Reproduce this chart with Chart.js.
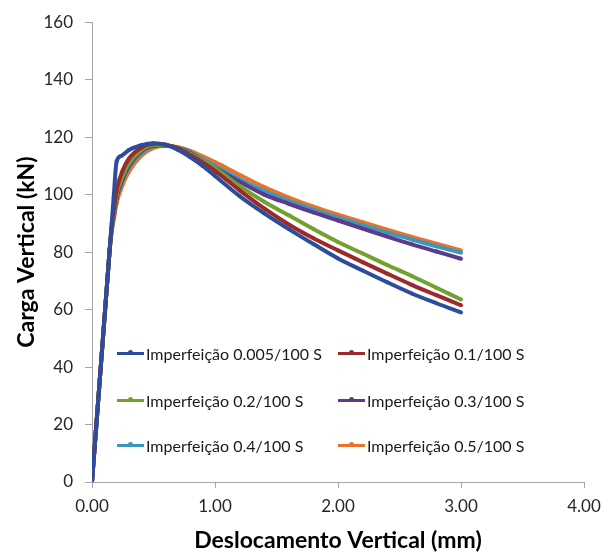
<!DOCTYPE html>
<html>
<head>
<meta charset="utf-8">
<script src="https://cdn.jsdelivr.net/npm/chart.js@4"></script>
<style>
  html, body { margin: 0; padding: 0; background: #fff; }
  #wrap { position: relative; width: 612px; height: 554px; }
  #legenda { position: absolute; left: 0; top: 0; font-family: Lato, "Open Sans", sans-serif; font-size: 16px; color: #1a1a1a; }
  .item { position: absolute; display: flex; align-items: center; white-space: nowrap; }
  .traco { position: relative; width: 27px; height: 3px; margin-right: 2px; }
  .traco span { position: absolute; left: 11px; top: -1.5px; width: 5px; height: 5px; border-radius: 50%; background: inherit; }
</style>
</head>
<body>
<div id="wrap">
  <canvas id="grafico" width="612" height="554"></canvas>
  <div id="legenda"></div>
</div>
<script>
// ========== DADOS ==========
// trecho inicial (comum a todas as curvas)
const rampaDesl = [0, 0.016, 0.032, 0.048, 0.064, 0.08, 0.096, 0.112, 0.128, 0.144];
const rampaCarga = [0, 9, 18, 27, 36, 45, 54, 63, 72, 81];

const deslAzul = [0.16, 0.176, 0.2, 0.24, 0.3, 0.4, 0.5, 0.6, 0.7, 0.8, 0.9, 1.0, 1.2, 1.4, 1.6, 1.8, 2.0, 2.2, 2.4, 2.6, 2.8, 3.0];
const cargaAzul = [90, 99, 111.5, 113.5, 115.5, 117.2, 117.9, 117.3, 115.5, 113, 110, 106.5, 99.5, 93.5, 88, 82.8, 77.8, 73.6, 69.5, 65.6, 62.2, 59];

const deslOutras = [0.16, 0.18, 0.2, 0.25, 0.3, 0.4, 0.5, 0.6, 0.7, 0.8, 0.9, 1.0, 1.2, 1.4, 1.6, 1.8, 2.0, 2.2, 2.4, 2.6, 2.8, 3.0];
const cargaVermelha = [89, 95.5, 101.5, 108.5, 112.5, 116.3, 117.7, 117.4, 116, 113.8, 111.2, 108.3, 101.5, 95.2, 89.6, 84.8, 80.6, 76.5, 72.5, 68.6, 65, 61.5];
const cargaVerde = [88, 94.5, 100, 106.5, 110.8, 115.5, 117.3, 117.2, 116, 114.2, 111.8, 109.2, 103, 97.5, 92.8, 88, 83.5, 79.5, 75.5, 71.7, 67.6, 63.5];
const cargaRoxa = [88, 93.5, 99, 105.5, 110, 115, 117, 117.1, 116.2, 114.5, 111.8, 109.3, 104.5, 100, 96.8, 93.8, 91, 88.2, 85.4, 82.7, 80.2, 77.7];
const cargaCiano = [87.5, 93, 98.5, 105, 109.5, 114.5, 116.8, 117, 116.3, 114.8, 112.3, 110, 105.3, 101.2, 97.8, 94.8, 92, 89.4, 86.8, 84.4, 82, 79.8];
const cargaLaranja = [87, 92, 97, 103.5, 108, 113.5, 116.3, 117, 116.5, 115.2, 113.3, 111.3, 106.9, 102.6, 99, 95.8, 93, 90.4, 87.8, 85.3, 82.9, 80.6];

const rotulos = ['Imperfeição 0.005/100 S', 'Imperfeição 0.1/100 S', 'Imperfeição 0.2/100 S',
                 'Imperfeição 0.3/100 S', 'Imperfeição 0.4/100 S', 'Imperfeição 0.5/100 S'];
const cores = ['#2d4c9c', '#9c2a2a', '#74a030', '#5d3a8a', '#3a98bf', '#e8732a'];

const yTicks = [0, 20, 40, 60, 80, 100, 120, 140, 160];
const xTicks = [0, 1, 2, 3, 4];

function montarPontos(desl, carga) {
  const xs = rampaDesl.concat(desl);
  const ys = rampaCarga.concat(carga);
  return xs.map((x, i) => ({ x: x, y: ys[i] }));
}

const series = [
  montarPontos(deslAzul, cargaAzul),
  montarPontos(deslOutras, cargaVermelha),
  montarPontos(deslOutras, cargaVerde),
  montarPontos(deslOutras, cargaRoxa),
  montarPontos(deslOutras, cargaCiano),
  montarPontos(deslOutras, cargaLaranja)
];

// ========== GRAFICO ==========
const fonteEixo = { family: 'Lato, "Open Sans", sans-serif', size: 17 };
const fonteTitulo = { family: 'Lato, "Open Sans", sans-serif', size: 23, weight: 'bold' };

new Chart(document.getElementById('grafico'), {
  type: 'line',
  data: {
    datasets: series.map((pts, i) => ({
      label: rotulos[i],
      data: pts,
      borderColor: cores[i],
      backgroundColor: cores[i],
      borderWidth: 4,
      pointRadius: 2,
      pointHoverRadius: 2,
      pointBorderWidth: 0,
      cubicInterpolationMode: 'monotone',
      fill: false
    }))
  },
  options: {
    responsive: false,
    animation: false,
    events: [],
    layout: { padding: { top: 17, right: 28, left: 0, bottom: 0 } },
    plugins: { legend: { display: false }, tooltip: { enabled: false } },
    scales: {
      x: {
        type: 'linear',
        min: 0, max: 4,
        afterBuildTicks: s => { s.ticks = xTicks.map(v => ({ value: v })); },
        afterFit: s => { s.height = 72; },
        grid: { drawOnChartArea: false, drawTicks: true, tickLength: 6, color: '#a6a6a6' },
        border: { color: '#a6a6a6', width: 1 },
        ticks: { color: '#262626', font: fonteEixo, padding: 8, maxRotation: 0, callback: v => v.toFixed(2) },
        title: { display: true, text: 'Deslocamento Vertical (mm)', color: '#000', font: fonteTitulo, padding: { top: 0, bottom: 0 } }
      },
      y: {
        min: 0, max: 160,
        afterBuildTicks: s => { s.ticks = yTicks.map(v => ({ value: v })); },
        afterFit: s => { s.width = 92; },
        grid: { drawOnChartArea: false, drawTicks: true, tickLength: 7, color: '#a6a6a6' },
        border: { color: '#a6a6a6', width: 1 },
        ticks: { color: '#262626', font: fonteEixo, padding: 12 },
        title: { display: true, text: 'Carga Vertical (kN)', color: '#000', font: fonteTitulo, padding: { top: 13, bottom: 0 } }
      }
    }
  }
});

// legenda dentro da area do grafico (2 colunas x 3 linhas)
const legenda = document.getElementById('legenda');
const colunasX = [117, 338];
const linhasY = [353, 400, 445];
rotulos.forEach((txt, i) => {
  const item = document.createElement('div');
  item.className = 'item';
  item.style.left = colunasX[i % 2] + 'px';
  item.style.top = (linhasY[Math.floor(i / 2)] - 10) + 'px';
  item.style.height = '20px';
  item.innerHTML = '<div class="traco" style="background:' + cores[i] + '"><span></span></div>' + txt;
  legenda.appendChild(item);
});
</script>
</body>
</html>
